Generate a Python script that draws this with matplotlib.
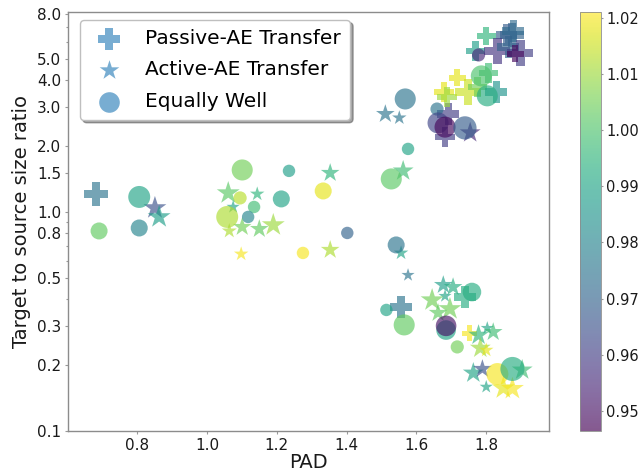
import numpy as np
import matplotlib
matplotlib.use("Agg")
import matplotlib.pyplot as plt
from matplotlib.colors import Normalize
from matplotlib.ticker import FixedLocator, NullFormatter, LogLocator

# Passive-AE Transfer (plus markers)
passive_pad = [0.683, 1.556, 1.691, 1.682, 1.800, 1.875, 1.858, 1.878, 1.769, 1.832,
               1.863, 1.898, 1.883, 1.806, 1.717, 1.679, 1.688, 1.748, 1.775, 1.829,
               1.751, 1.739]
passive_ratio = [1.208, 0.368, 2.80, 2.20, 6.36, 6.43, 6.43, 6.71, 5.43, 5.43,
                 5.67, 5.32, 5.27, 4.31, 4.09, 3.53, 3.35, 3.53, 3.72, 3.53,
                 0.280, 0.409]
passive_val = [0.975, 0.975, 0.960, 0.960, 0.995, 0.970, 0.968, 0.972, 0.988, 0.958,
               0.970, 0.960, 0.948, 0.998, 1.018, 1.018, 1.010, 1.015, 1.005, 0.985,
               1.020, 0.993]
passive_size = [300, 250, 250, 200, 180, 300, 250, 250, 200, 350,
                250, 350, 150, 200, 150, 200, 200, 350, 200, 250,
                120, 250]

# Active-AE Transfer (star markers)
active_pad = [0.851, 0.863, 1.353, 1.061, 1.144, 1.075, 1.064, 1.101, 1.150, 1.190,
              1.098, 1.353, 1.511, 1.551, 1.562, 1.754, 1.556, 1.576, 1.677, 1.705,
              1.682, 1.645, 1.696, 1.662, 1.778, 1.803, 1.820, 1.783, 1.800, 1.763,
              1.789, 1.903, 1.800, 1.849, 1.875]
active_ratio = [1.043, 0.949, 1.507, 1.22, 1.208, 1.054, 0.819, 0.854, 0.836, 0.872,
                0.643, 0.671, 2.80, 2.69, 1.54, 2.30, 0.650, 0.515, 0.464, 0.454,
                0.413, 0.396, 0.361, 0.346, 0.274, 0.295, 0.283, 0.239, 0.234, 0.184,
                0.192, 0.190, 0.159, 0.157, 0.156]
active_val = [0.965, 0.988, 0.995, 1.002, 0.995, 0.990, 1.012, 1.005, 1.003, 1.010,
              1.020, 1.012, 0.975, 0.975, 0.998, 0.955, 0.990, 0.975, 0.988, 0.993,
              0.990, 1.005, 1.005, 1.003, 0.995, 0.990, 0.998, 1.010, 1.018, 0.990,
              0.965, 0.998, 0.990, 1.018, 1.020]
active_size = [300, 300, 200, 300, 120, 100, 130, 200, 200, 300,
               120, 200, 200, 120, 250, 250, 120, 100, 200, 200,
               100, 300, 300, 200, 250, 100, 200, 250, 120, 250,
               200, 250, 100, 300, 300]

# Equally Well (circle markers)
equal_pad = [0.691, 0.806, 0.806, 1.101, 1.235, 1.333, 1.095, 1.213, 1.135, 1.058,
             1.118, 1.402, 1.275, 1.568, 1.576, 1.528, 1.659, 1.662, 1.682, 1.739,
             1.778, 1.786, 1.803, 1.542, 1.514, 1.565, 1.759, 1.685, 1.685, 1.717,
             1.832, 1.875]
equal_ratio = [0.819, 1.171, 0.845, 1.555, 1.54, 1.247, 1.159, 1.147, 1.054, 0.949,
               0.949, 0.802, 0.650, 3.28, 1.94, 1.415, 2.95, 2.55, 2.44, 2.42,
               5.21, 4.18, 3.39, 0.707, 0.357, 0.305, 0.431, 0.289, 0.302, 0.242,
               0.182, 0.192]
equal_val = [1.003, 0.990, 0.980, 1.005, 0.988, 1.018, 1.013, 0.990, 0.998, 1.012,
             0.980, 0.970, 1.020, 0.975, 0.990, 1.002, 0.975, 0.962, 0.948, 0.968,
             0.955, 1.000, 0.993, 0.975, 0.990, 1.003, 0.993, 0.990, 0.950, 1.005,
             1.020, 0.993]
equal_size = [150, 250, 150, 230, 80, 150, 90, 150, 80, 250,
              80, 80, 80, 230, 80, 230, 90, 230, 230, 280,
              90, 230, 230, 150, 80, 230, 180, 200, 220, 90,
              250, 300]

yticks = [0.1, 0.2, 0.3, 0.5, 0.8, 1.0, 1.5, 2.0, 3.0, 4.0, 5.0, 8.0]
cbar_ticks = [0.95, 0.96, 0.97, 0.98, 0.99, 1.00, 1.01, 1.02]

norm = Normalize(vmin=0.9464, vmax=1.0211)

fig = plt.figure(figsize=(6.44, 4.73), dpi=100)
ax = fig.add_axes([0.1056, 0.0888, 0.747, 0.886])
cax = fig.add_axes([0.901, 0.0888, 0.033, 0.886])

sc = ax.scatter(passive_pad, passive_ratio, c=passive_val, s=passive_size, marker="P",
                cmap="viridis", norm=norm, alpha=0.65, linewidths=0)
ax.scatter(active_pad, active_ratio, c=active_val, s=active_size, marker="*",
           cmap="viridis", norm=norm, alpha=0.65, linewidths=0)
ax.scatter(equal_pad, equal_ratio, c=equal_val, s=equal_size, marker="o",
           cmap="viridis", norm=norm, alpha=0.65, linewidths=0)

# legend proxies
h1 = ax.scatter([], [], marker="P", s=270, color="#1f77b4", alpha=0.6, linewidths=0)
h2 = ax.scatter([], [], marker="*", s=220, color="#1f77b4", alpha=0.6, linewidths=0)
h3 = ax.scatter([], [], marker="o", s=220, color="#1f77b4", alpha=0.6, linewidths=0)
leg = ax.legend([h1, h2, h3], ["Passive-AE Transfer", "Active-AE Transfer", "Equally Well"],
                loc="upper left", fontsize=14.5, shadow=True, borderpad=0.45,
                labelspacing=0.62, borderaxespad=0, bbox_to_anchor=(0.025, 0.981))
leg.get_frame().set_edgecolor("0.75")

ax.set_yscale("log")
ax.set_xlim(0.602, 1.98)
ax.set_ylim(0.1, 8.19)
ax.yaxis.set_major_locator(FixedLocator(yticks))
ax.set_yticklabels([f"{t:.1f}" for t in yticks])
ax.yaxis.set_minor_locator(LogLocator(base=10, subs=np.arange(2, 10) * 0.1))
ax.yaxis.set_minor_formatter(NullFormatter())
ax.set_xticks([0.8, 1.0, 1.2, 1.4, 1.6, 1.8])
ax.tick_params(which="both", labelsize=11, length=2, width=0.8, color="0.6",
               pad=3, labelcolor="0.1")
ax.tick_params(which="minor", length=1.5)
for sp in ax.spines.values():
    sp.set_color("0.55")
    sp.set_linewidth(1.0)
ax.set_xlabel("PAD", fontsize=14, color="0.1", labelpad=0)
ax.set_ylabel("Target to source size ratio", fontsize=14, color="0.1", labelpad=4)

cb = fig.colorbar(sc, cax=cax)
cb.set_ticks(cbar_ticks)
cb.ax.tick_params(labelsize=10.5, length=1.5, color="0.6", pad=2, labelcolor="0.1")
cb.outline.set_linewidth(0.6)
cb.outline.set_edgecolor("0.55")

fig.savefig("out.png", dpi=100)
